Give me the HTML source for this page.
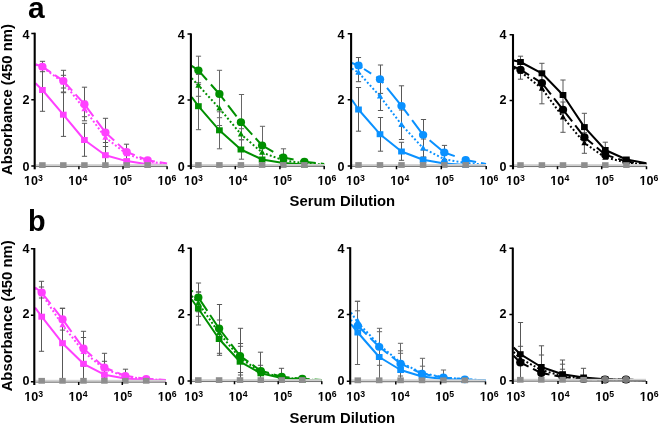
<!DOCTYPE html>
<html lang="en">
<head>
<meta charset="utf-8">
<title>Serum dilution ELISA curves</title>
<style>
html,body{margin:0;padding:0;background:#fff;}
body{width:660px;height:424px;overflow:hidden;font-family:"Liberation Sans", Arial, Helvetica, sans-serif;}
svg{display:block;}
</style>
</head>
<body>
<svg width="660" height="424" viewBox="0 0 660 424" font-family='"Liberation Sans", Arial, Helvetica, sans-serif' font-weight="bold">
<rect width="660" height="424" fill="#fff"/>
<text x="28" y="17.6" font-size="30">a</text>
<text x="28" y="231.4" font-size="28.8">b</text>
<text transform="translate(12.3 99.6) rotate(-90)" text-anchor="middle" font-size="14.85">Absorbance (450 nm)</text>
<text transform="translate(12.3 315.9) rotate(-90)" text-anchor="middle" font-size="14.85">Absorbance (450 nm)</text>
<text x="342.4" y="205.6" text-anchor="middle" font-size="14.85">Serum Dilution</text>
<text x="342.4" y="422.6" text-anchor="middle" font-size="14.85">Serum Dilution</text>
<g>
<path d="M42.5 61.3 V71.7 M39.9 61.3 H45.1 M39.9 71.7 H45.1 M42.5 68.7 V111.3 M39.9 68.7 H45.1 M39.9 111.3 H45.1 M63.5 70.3 V92 M60.9 70.3 H66.1 M60.9 92 H66.1 M63.5 75.3 V88 M60.9 75.3 H66.1 M60.9 88 H66.1 M63.5 92.7 V136.4 M60.9 92.7 H66.1 M60.9 136.4 H66.1 M84.5 87.2 V120.8 M81.9 87.2 H87.1 M81.9 120.8 H87.1 M84.5 101.3 V116.7 M81.9 101.3 H87.1 M81.9 116.7 H87.1 M84.5 123.3 V156.3 M81.9 123.3 H87.1 M81.9 156.3 H87.1 M105.5 118.3 V146.5 M102.9 118.3 H108.1 M102.9 146.5 H108.1 M105.5 132.5 V142.5 M102.9 132.5 H108.1 M102.9 142.5 H108.1 M105.5 146.5 V166 M102.9 146.5 H108.1 M126.5 144.2 V159.8 M123.9 144.2 H129.1 M123.9 159.8 H129.1" stroke="#585858" stroke-width="1" fill="none"/>
<path d="M35.5 64.6 L42.4 67.3 L63.3 82.3 L84.4 109 L105.4 137.5 L126.7 154 L147.6 161.3 L167.1 164" stroke="#FF40FF" stroke-width="2" stroke-linejoin="round" fill="none" stroke-dasharray="1.9 2.2"/>
<path d="M42.4 63.9 L45.45 69.6 L39.35 69.6 Z" fill="#FF40FF"/>
<path d="M63.3 78.9 L66.35 84.6 L60.25 84.6 Z" fill="#FF40FF"/>
<path d="M84.4 105.6 L87.45 111.3 L81.35 111.3 Z" fill="#FF40FF"/>
<path d="M105.4 134.1 L108.45 139.8 L102.35 139.8 Z" fill="#FF40FF"/>
<path d="M126.7 150.6 L129.75 156.3 L123.65 156.3 Z" fill="#FF40FF"/>
<path d="M147.6 157.9 L150.65 163.6 L144.55 163.6 Z" fill="#FF40FF"/>
<path d="M35.5 64.2 L42.4 66.7 L63.3 80.8 L84.4 104.2 L105.4 132.4 L126.7 152 L147.6 160.2 L167.1 163.5" stroke="#FF40FF" stroke-width="2" stroke-linejoin="round" fill="none" stroke-dasharray="17.44 5 23.36 5 28.33 5 27.05 5 20.7 5 16.11 5 12.39 0.01"/>
<ellipse cx="42.4" cy="66.7" rx="4.15" ry="3.9" fill="#FF40FF"/>
<ellipse cx="63.3" cy="80.8" rx="4.15" ry="3.9" fill="#FF40FF"/>
<ellipse cx="84.4" cy="104.2" rx="4.15" ry="3.9" fill="#FF40FF"/>
<ellipse cx="105.4" cy="132.4" rx="4.15" ry="3.9" fill="#FF40FF"/>
<ellipse cx="126.7" cy="152" rx="4.15" ry="3.9" fill="#FF40FF"/>
<ellipse cx="147.6" cy="160.2" rx="4.15" ry="3.9" fill="#FF40FF"/>
<path d="M35.5 83.3 L42.4 90 L63.3 114.7 L84.4 140 L105.4 155.2 L126.7 161.1 L147.6 164.3 L167.1 165.3" stroke="#FF40FF" stroke-width="2" stroke-linejoin="round" fill="none"/>
<rect x="39.05" y="87" width="6.7" height="6" fill="#FF40FF"/>
<rect x="59.95" y="111.7" width="6.7" height="6" fill="#FF40FF"/>
<rect x="81.05" y="137" width="6.7" height="6" fill="#FF40FF"/>
<rect x="102.05" y="152.2" width="6.7" height="6" fill="#FF40FF"/>
<rect x="123.35" y="158.1" width="6.7" height="6" fill="#FF40FF"/>
<rect x="144.25" y="161.3" width="6.7" height="6" fill="#FF40FF"/>
<rect x="35.7" y="164.1" width="131.4" height="1.9" fill="#d2d2d2"/>
<rect x="35.7" y="165.95" width="131.4" height="1.1" fill="#787878"/>
<rect x="39.15" y="162.2" width="6.5" height="5.8" fill="#8e8e8e"/>
<rect x="60.05" y="162.2" width="6.5" height="5.8" fill="#8e8e8e"/>
<rect x="81.15" y="162.2" width="6.5" height="5.8" fill="#8e8e8e"/>
<rect x="102.15" y="162.2" width="6.5" height="5.8" fill="#8e8e8e"/>
<rect x="123.45" y="162.2" width="6.5" height="5.8" fill="#8e8e8e"/>
<rect x="144.35" y="162.2" width="6.5" height="5.8" fill="#8e8e8e"/>
<path d="M34.7 32.7 V169.3" stroke="#000" stroke-width="2.1" fill="none"/>
<path d="M31.3 33.4 H34.7 M31.3 99.7 H34.7 M31.3 166 H34.7 M78.9 166.2 V169.3 M123 166.2 V169.3 M167.1 166.2 V169.3" stroke="#000" stroke-width="1.5" fill="none"/>
<text transform="translate(29.5 38.5) scale(0.92 1)" text-anchor="end" font-size="13.7">4</text>
<text transform="translate(29.5 103.6) scale(0.92 1)" text-anchor="end" font-size="13.7">2</text>
<text transform="translate(29.5 170.7) scale(0.92 1)" text-anchor="end" font-size="13.7">0</text>
<text transform="translate(33.4 185.1) scale(0.92 1)" text-anchor="middle" font-size="13.7">10<tspan font-size="9.5" dy="-4.4">3</tspan></text>
<path d="M24.15 183.1h2.75v2.55h-2.75z M28.63 183.1h2.49v2.55h-2.49z" fill="#fff"/>
<text transform="translate(77.8 185.1) scale(0.92 1)" text-anchor="middle" font-size="13.7">10<tspan font-size="9.5" dy="-4.4">4</tspan></text>
<path d="M68.55 183.1h2.75v2.55h-2.75z M73.03 183.1h2.49v2.55h-2.49z" fill="#fff"/>
<text transform="translate(122.4 185.1) scale(0.92 1)" text-anchor="middle" font-size="13.7">10<tspan font-size="9.5" dy="-4.4">5</tspan></text>
<path d="M113.15 183.1h2.75v2.55h-2.75z M117.63 183.1h2.49v2.55h-2.49z" fill="#fff"/>
<text transform="translate(166.85 185.1) scale(0.92 1)" text-anchor="middle" font-size="13.7">10<tspan font-size="9.5" dy="-4.4">6</tspan></text>
<path d="M157.6 183.1h2.75v2.55h-2.75z M162.08 183.1h2.49v2.55h-2.49z" fill="#fff"/>
</g>
<g>
<path d="M198.5 56.2 V84.4 M195.9 56.2 H201.1 M195.9 84.4 H201.1 M198.5 74.5 V96.3 M195.9 74.5 H201.1 M195.9 96.3 H201.1 M198.5 82.7 V129.7 M195.9 82.7 H201.1 M195.9 129.7 H201.1 M219.5 70.3 V117.7 M216.9 70.3 H222.1 M216.9 117.7 H222.1 M219.5 91.3 V125.5 M216.9 91.3 H222.1 M216.9 125.5 H222.1 M219.5 111.8 V148.8 M216.9 111.8 H222.1 M216.9 148.8 H222.1 M241.5 94.5 V150 M238.9 94.5 H244.1 M238.9 150 H244.1 M241.5 128.7 V139.7 M238.9 128.7 H244.1 M238.9 139.7 H244.1 M241.5 139.8 V159.2 M238.9 139.8 H244.1 M238.9 159.2 H244.1 M262.5 126.3 V164.5 M259.9 126.3 H265.1 M259.9 164.5 H265.1 M283.5 148.8 V165 M280.9 148.8 H286.1 M280.9 165 H286.1" stroke="#666666" stroke-width="1" fill="none"/>
<path d="M191.7 97 L198.4 106.2 L219.4 130.3 L240.9 149.5 L262.1 159.5 L283.3 163 L304.4 164.6 L324.2 165.4" stroke="#008F00" stroke-width="2" stroke-linejoin="round" fill="none"/>
<rect x="195.05" y="103.2" width="6.7" height="6" fill="#008F00"/>
<rect x="216.05" y="127.3" width="6.7" height="6" fill="#008F00"/>
<rect x="237.55" y="146.5" width="6.7" height="6" fill="#008F00"/>
<rect x="258.75" y="156.5" width="6.7" height="6" fill="#008F00"/>
<rect x="279.95" y="160" width="6.7" height="6" fill="#008F00"/>
<rect x="301.05" y="161.6" width="6.7" height="6" fill="#008F00"/>
<path d="M191.7 78.3 L198.4 85.4 L219.4 108.3 L240.9 134.2 L262.1 152.5 L283.3 160.3 L304.4 163.3 L324.2 164.6" stroke="#008F00" stroke-width="2" stroke-linejoin="round" fill="none" stroke-dasharray="1.9 2.2"/>
<path d="M198.4 82 L201.45 87.7 L195.35 87.7 Z" fill="#008F00"/>
<path d="M219.4 104.9 L222.45 110.6 L216.35 110.6 Z" fill="#008F00"/>
<path d="M240.9 130.8 L243.95 136.5 L237.85 136.5 Z" fill="#008F00"/>
<path d="M262.1 149.1 L265.15 154.8 L259.05 154.8 Z" fill="#008F00"/>
<path d="M283.3 156.9 L286.35 162.6 L280.25 162.6 Z" fill="#008F00"/>
<path d="M304.4 159.9 L307.45 165.6 L301.35 165.6 Z" fill="#008F00"/>
<path d="M191.7 65.8 L198.4 70.3 L219.4 94 L240.9 122.2 L262.1 145.4 L283.3 157.5 L304.4 161.7 L324.2 164" stroke="#008F00" stroke-width="2" stroke-linejoin="round" fill="none" stroke-dasharray="21 6 21.8 5.2 14 3.5 20.5 5 22.5 7 15 7 15.5 5 400 0.01"/>
<ellipse cx="198.4" cy="70.3" rx="4.15" ry="3.9" fill="#008F00"/>
<ellipse cx="219.4" cy="94" rx="4.15" ry="3.9" fill="#008F00"/>
<ellipse cx="240.9" cy="122.2" rx="4.15" ry="3.9" fill="#008F00"/>
<ellipse cx="262.1" cy="145.4" rx="4.15" ry="3.9" fill="#008F00"/>
<ellipse cx="283.3" cy="157.5" rx="4.15" ry="3.9" fill="#008F00"/>
<ellipse cx="304.4" cy="161.7" rx="4.15" ry="3.9" fill="#008F00"/>
<rect x="191.9" y="164" width="132.3" height="1.9" fill="#d2d2d2"/>
<rect x="191.9" y="165.85" width="132.3" height="1.1" fill="#787878"/>
<rect x="195.15" y="162.1" width="6.5" height="5.8" fill="#8e8e8e"/>
<rect x="216.15" y="162.1" width="6.5" height="5.8" fill="#8e8e8e"/>
<rect x="237.65" y="162.1" width="6.5" height="5.8" fill="#8e8e8e"/>
<rect x="258.85" y="162.1" width="6.5" height="5.8" fill="#8e8e8e"/>
<rect x="280.05" y="162.1" width="6.5" height="5.8" fill="#8e8e8e"/>
<rect x="301.15" y="162.1" width="6.5" height="5.8" fill="#8e8e8e"/>
<path d="M190.9 33.4 V169.2" stroke="#000" stroke-width="2.1" fill="none"/>
<path d="M187.5 34.1 H190.9 M187.5 100 H190.9 M187.5 165.9 H190.9 M235.3 166.1 V169.2 M279.9 166.1 V169.2 M324.2 166.1 V169.2" stroke="#000" stroke-width="1.5" fill="none"/>
<text transform="translate(184.7 38.5) scale(0.92 1)" text-anchor="end" font-size="13.7">4</text>
<text transform="translate(184.7 103.6) scale(0.92 1)" text-anchor="end" font-size="13.7">2</text>
<text transform="translate(184.7 170.7) scale(0.92 1)" text-anchor="end" font-size="13.7">0</text>
<text transform="translate(193.4 185.1) scale(0.92 1)" text-anchor="middle" font-size="13.7">10<tspan font-size="9.5" dy="-4.4">3</tspan></text>
<path d="M184.15 183.1h2.75v2.55h-2.75z M188.63 183.1h2.49v2.55h-2.49z" fill="#fff"/>
<text transform="translate(237.8 185.1) scale(0.92 1)" text-anchor="middle" font-size="13.7">10<tspan font-size="9.5" dy="-4.4">4</tspan></text>
<path d="M228.55 183.1h2.75v2.55h-2.75z M233.03 183.1h2.49v2.55h-2.49z" fill="#fff"/>
<text transform="translate(282.4 185.1) scale(0.92 1)" text-anchor="middle" font-size="13.7">10<tspan font-size="9.5" dy="-4.4">5</tspan></text>
<path d="M273.15 183.1h2.75v2.55h-2.75z M277.63 183.1h2.49v2.55h-2.49z" fill="#fff"/>
<text transform="translate(326.85 185.1) scale(0.92 1)" text-anchor="middle" font-size="13.7">10<tspan font-size="9.5" dy="-4.4">6</tspan></text>
<path d="M317.6 183.1h2.75v2.55h-2.75z M322.08 183.1h2.49v2.55h-2.49z" fill="#fff"/>
</g>
<g>
<path d="M358.5 57.5 V73.5 M355.9 57.5 H361.1 M355.9 73.5 H361.1 M358.5 63.3 V81.7 M355.9 63.3 H361.1 M355.9 81.7 H361.1 M358.5 87.5 V131.2 M355.9 87.5 H361.1 M355.9 131.2 H361.1 M380.5 65 V93.4 M377.9 65 H383.1 M377.9 93.4 H383.1 M380.5 82 V110.5 M377.9 82 H383.1 M377.9 110.5 H383.1 M380.5 117.5 V151.2 M377.9 117.5 H383.1 M377.9 151.2 H383.1 M401.5 85.8 V125.8 M398.9 85.8 H404.1 M398.9 125.8 H404.1 M401.5 110 V139.5 M398.9 110 H404.1 M398.9 139.5 H404.1 M401.5 142.3 V160.3 M398.9 142.3 H404.1 M398.9 160.3 H404.1 M423.5 119.5 V150 M420.9 119.5 H426.1 M420.9 150 H426.1 M423.5 139 V157 M420.9 139 H426.1 M420.9 157 H426.1 M444.5 145.4 V159.6 M441.9 145.4 H447.1 M441.9 159.6 H447.1" stroke="#585858" stroke-width="1" fill="none"/>
<path d="M351.9 99.7 L358.5 109.5 L380 134.2 L401.5 151.5 L423.1 159.7 L444.3 163.5 L465.7 165 L486 165.5" stroke="#0A91FF" stroke-width="2" stroke-linejoin="round" fill="none"/>
<rect x="355.15" y="106.5" width="6.7" height="6" fill="#0A91FF"/>
<rect x="376.65" y="131.2" width="6.7" height="6" fill="#0A91FF"/>
<rect x="398.15" y="148.5" width="6.7" height="6" fill="#0A91FF"/>
<rect x="419.75" y="156.7" width="6.7" height="6" fill="#0A91FF"/>
<rect x="440.95" y="160.5" width="6.7" height="6" fill="#0A91FF"/>
<rect x="462.35" y="162" width="6.7" height="6" fill="#0A91FF"/>
<path d="M351.9 68.7 L358.5 72.5 L380 96.3 L401.5 124.7 L423.1 148.2 L444.3 159.2 L465.7 163 L486 164.6" stroke="#0A91FF" stroke-width="2" stroke-linejoin="round" fill="none" stroke-dasharray="1.9 2.2"/>
<path d="M358.5 69.1 L361.55 74.8 L355.45 74.8 Z" fill="#0A91FF"/>
<path d="M380 92.9 L383.05 98.6 L376.95 98.6 Z" fill="#0A91FF"/>
<path d="M401.5 121.3 L404.55 127 L398.45 127 Z" fill="#0A91FF"/>
<path d="M423.1 144.8 L426.15 150.5 L420.05 150.5 Z" fill="#0A91FF"/>
<path d="M444.3 155.8 L447.35 161.5 L441.25 161.5 Z" fill="#0A91FF"/>
<path d="M465.7 159.6 L468.75 165.3 L462.65 165.3 Z" fill="#0A91FF"/>
<path d="M351.9 63 L358.5 65.5 L380 79.2 L401.5 105.8 L423.1 134.8 L444.3 152.5 L465.7 160 L486 164" stroke="#0A91FF" stroke-width="2" stroke-linejoin="round" fill="none" stroke-dasharray="11.6 2 8.5 6 9.6 6 35.3 5.5 22.5 4.4 30.2 7.9 14.3 5 400 0.01"/>
<ellipse cx="358.5" cy="65.5" rx="4.15" ry="3.9" fill="#0A91FF"/>
<ellipse cx="380" cy="79.2" rx="4.15" ry="3.9" fill="#0A91FF"/>
<ellipse cx="401.5" cy="105.8" rx="4.15" ry="3.9" fill="#0A91FF"/>
<ellipse cx="423.1" cy="134.8" rx="4.15" ry="3.9" fill="#0A91FF"/>
<ellipse cx="444.3" cy="152.5" rx="4.15" ry="3.9" fill="#0A91FF"/>
<ellipse cx="465.7" cy="160" rx="4.15" ry="3.9" fill="#0A91FF"/>
<rect x="352.1" y="164" width="133.9" height="1.9" fill="#d2d2d2"/>
<rect x="352.1" y="165.85" width="133.9" height="1.1" fill="#787878"/>
<rect x="355.25" y="162.1" width="6.5" height="5.8" fill="#8e8e8e"/>
<rect x="376.75" y="162.1" width="6.5" height="5.8" fill="#8e8e8e"/>
<rect x="398.25" y="162.1" width="6.5" height="5.8" fill="#8e8e8e"/>
<rect x="419.85" y="162.1" width="6.5" height="5.8" fill="#8e8e8e"/>
<rect x="441.05" y="162.1" width="6.5" height="5.8" fill="#8e8e8e"/>
<rect x="462.45" y="162.1" width="6.5" height="5.8" fill="#8e8e8e"/>
<path d="M351.1 33 V169.2" stroke="#000" stroke-width="2.1" fill="none"/>
<path d="M347.7 33.7 H351.1 M347.7 99.8 H351.1 M347.7 165.9 H351.1 M396.5 166.1 V169.2 M441.3 166.1 V169.2 M486.2 166.1 V169.2" stroke="#000" stroke-width="1.5" fill="none"/>
<text transform="translate(344.5 38.5) scale(0.92 1)" text-anchor="end" font-size="13.7">4</text>
<text transform="translate(344.5 103.6) scale(0.92 1)" text-anchor="end" font-size="13.7">2</text>
<text transform="translate(344.5 170.7) scale(0.92 1)" text-anchor="end" font-size="13.7">0</text>
<text transform="translate(355.4 185.1) scale(0.92 1)" text-anchor="middle" font-size="13.7">10<tspan font-size="9.5" dy="-4.4">3</tspan></text>
<path d="M346.15 183.1h2.75v2.55h-2.75z M350.63 183.1h2.49v2.55h-2.49z" fill="#fff"/>
<text transform="translate(399.8 185.1) scale(0.92 1)" text-anchor="middle" font-size="13.7">10<tspan font-size="9.5" dy="-4.4">4</tspan></text>
<path d="M390.55 183.1h2.75v2.55h-2.75z M395.03 183.1h2.49v2.55h-2.49z" fill="#fff"/>
<text transform="translate(444.4 185.1) scale(0.92 1)" text-anchor="middle" font-size="13.7">10<tspan font-size="9.5" dy="-4.4">5</tspan></text>
<path d="M435.15 183.1h2.75v2.55h-2.75z M439.63 183.1h2.49v2.55h-2.49z" fill="#fff"/>
<text transform="translate(488.85 185.1) scale(0.92 1)" text-anchor="middle" font-size="13.7">10<tspan font-size="9.5" dy="-4.4">6</tspan></text>
<path d="M479.6 183.1h2.75v2.55h-2.75z M484.08 183.1h2.49v2.55h-2.49z" fill="#fff"/>
</g>
<g>
<path d="M520.5 56.2 V67.8 M517.9 56.2 H523.1 M517.9 67.8 H523.1 M520.5 60.2 V79.2 M517.9 60.2 H523.1 M517.9 79.2 H523.1 M541.9 63.3 V83.3 M539.3 63.3 H544.5 M539.3 83.3 H544.5 M541.9 73.2 V103.8 M539.3 73.2 H544.5 M539.3 103.8 H544.5 M563 80 V110 M560.4 80 H565.6 M560.4 110 H565.6 M563 102 V132.3 M560.4 102 H565.6 M560.4 132.3 H565.6 M584.4 113.3 V141 M581.8 113.3 H587 M581.8 141 H587 M584.4 132.7 V153.3 M581.8 132.7 H587 M581.8 153.3 H587 M605.3 142.2 V157.8 M602.7 142.2 H607.9 M602.7 157.8 H607.9" stroke="#585858" stroke-width="1" fill="none"/>
<path d="M513.8 68 L520.5 71.5 L541.9 88.5 L563 117.2 L584.4 143 L605.3 157.5 L626.4 162.5 L646.4 164.5" stroke="#000000" stroke-width="2" stroke-linejoin="round" fill="none" stroke-dasharray="1.9 2.2"/>
<path d="M520.5 68.1 L523.55 73.8 L517.45 73.8 Z" fill="#000000"/>
<path d="M541.9 85.1 L544.95 90.8 L538.85 90.8 Z" fill="#000000"/>
<path d="M563 113.8 L566.05 119.5 L559.95 119.5 Z" fill="#000000"/>
<path d="M584.4 139.6 L587.45 145.3 L581.35 145.3 Z" fill="#000000"/>
<path d="M605.3 154.1 L608.35 159.8 L602.25 159.8 Z" fill="#000000"/>
<path d="M626.4 159.1 L629.45 164.8 L623.35 164.8 Z" fill="#000000"/>
<path d="M513.8 66.7 L520.5 69.7 L541.9 83 L563 109.7 L584.4 137.2 L605.3 154.7 L626.4 161.5 L646.4 164" stroke="#000000" stroke-width="2" stroke-linejoin="round" fill="none" stroke-dasharray="17.44 5 24.61 5 29.44 5 26.05 5 19.71 5 16.16 5 12.58 0.01"/>
<ellipse cx="520.5" cy="69.7" rx="4.15" ry="3.9" fill="#000000"/>
<ellipse cx="541.9" cy="83" rx="4.15" ry="3.9" fill="#000000"/>
<ellipse cx="563" cy="109.7" rx="4.15" ry="3.9" fill="#000000"/>
<ellipse cx="584.4" cy="137.2" rx="4.15" ry="3.9" fill="#000000"/>
<ellipse cx="605.3" cy="154.7" rx="4.15" ry="3.9" fill="#000000"/>
<ellipse cx="626.4" cy="161.5" rx="4.15" ry="3.9" fill="#000000"/>
<path d="M513.8 60.5 L520.5 62 L541.9 73.3 L563 95 L584.4 127.1 L605.3 150 L626.4 159.5 L646.4 163.3" stroke="#000000" stroke-width="2" stroke-linejoin="round" fill="none"/>
<rect x="517.15" y="59" width="6.7" height="6" fill="#000000"/>
<rect x="538.55" y="70.3" width="6.7" height="6" fill="#000000"/>
<rect x="559.65" y="92" width="6.7" height="6" fill="#000000"/>
<rect x="581.05" y="124.1" width="6.7" height="6" fill="#000000"/>
<rect x="601.95" y="147" width="6.7" height="6" fill="#000000"/>
<rect x="623.05" y="156.5" width="6.7" height="6" fill="#000000"/>
<rect x="514" y="164.1" width="132.4" height="1.9" fill="#d2d2d2"/>
<rect x="514" y="165.95" width="132.4" height="1.1" fill="#787878"/>
<rect x="517.25" y="162.2" width="6.5" height="5.8" fill="#8e8e8e"/>
<rect x="538.65" y="162.2" width="6.5" height="5.8" fill="#8e8e8e"/>
<rect x="559.75" y="162.2" width="6.5" height="5.8" fill="#8e8e8e"/>
<rect x="581.15" y="162.2" width="6.5" height="5.8" fill="#8e8e8e"/>
<rect x="602.05" y="162.2" width="6.5" height="5.8" fill="#8e8e8e"/>
<rect x="623.15" y="162.2" width="6.5" height="5.8" fill="#8e8e8e"/>
<path d="M513 34.1 V169.3" stroke="#000" stroke-width="2.1" fill="none"/>
<path d="M509.6 34.8 H513 M509.6 100.4 H513 M509.6 166 H513 M557.5 166.2 V169.3 M601.7 166.2 V169.3 M646.5 166.2 V169.3" stroke="#000" stroke-width="1.5" fill="none"/>
<text transform="translate(506.5 38.5) scale(0.92 1)" text-anchor="end" font-size="13.7">4</text>
<text transform="translate(506.5 103.6) scale(0.92 1)" text-anchor="end" font-size="13.7">2</text>
<text transform="translate(506.5 170.7) scale(0.92 1)" text-anchor="end" font-size="13.7">0</text>
<text transform="translate(515.4 185.1) scale(0.92 1)" text-anchor="middle" font-size="13.7">10<tspan font-size="9.5" dy="-4.4">3</tspan></text>
<path d="M506.15 183.1h2.75v2.55h-2.75z M510.63 183.1h2.49v2.55h-2.49z" fill="#fff"/>
<text transform="translate(559.8 185.1) scale(0.92 1)" text-anchor="middle" font-size="13.7">10<tspan font-size="9.5" dy="-4.4">4</tspan></text>
<path d="M550.55 183.1h2.75v2.55h-2.75z M555.03 183.1h2.49v2.55h-2.49z" fill="#fff"/>
<text transform="translate(604.4 185.1) scale(0.92 1)" text-anchor="middle" font-size="13.7">10<tspan font-size="9.5" dy="-4.4">5</tspan></text>
<path d="M595.15 183.1h2.75v2.55h-2.75z M599.63 183.1h2.49v2.55h-2.49z" fill="#fff"/>
<text transform="translate(648.85 185.1) scale(0.92 1)" text-anchor="middle" font-size="13.7">10<tspan font-size="9.5" dy="-4.4">6</tspan></text>
<path d="M639.6 183.1h2.75v2.55h-2.75z M644.08 183.1h2.49v2.55h-2.49z" fill="#fff"/>
</g>
<g>
<path d="M41.5 287 V298 M38.9 287 H44.1 M38.9 298 H44.1 M41.5 281.3 V351.3 M38.9 281.3 H44.1 M38.9 351.3 H44.1 M62.5 308.3 V330.1 M59.9 308.3 H65.1 M59.9 330.1 H65.1 M62.5 308.3 V381.7 M59.9 308.3 H65.1 M83.5 331.3 V365.7 M80.9 331.3 H86.1 M80.9 365.7 H86.1 M83.5 337.5 V366 M80.9 337.5 H86.1 M80.9 366 H86.1 M83.5 346.5 V381.7 M80.9 346.5 H86.1 M104.5 353.3 V381.7 M101.9 353.3 H107.1 M104.5 361.3 V377 M101.9 361.3 H107.1 M101.9 377 H107.1 M125.5 369.2 V381.7 M122.9 369.2 H128.1" stroke="#585858" stroke-width="1" fill="none"/>
<path d="M35.1 288 L41.7 294 L62.5 325 L83.5 351.7 L104.4 369 L125.3 376.5 L146.2 379 L165.9 380.2" stroke="#FF40FF" stroke-width="2" stroke-linejoin="round" fill="none" stroke-dasharray="1.9 2.2"/>
<path d="M41.7 290.6 L44.75 296.3 L38.65 296.3 Z" fill="#FF40FF"/>
<path d="M62.5 321.6 L65.55 327.3 L59.45 327.3 Z" fill="#FF40FF"/>
<path d="M83.5 348.3 L86.55 354 L80.45 354 Z" fill="#FF40FF"/>
<path d="M104.4 365.6 L107.45 371.3 L101.35 371.3 Z" fill="#FF40FF"/>
<path d="M125.3 373.1 L128.35 378.8 L122.25 378.8 Z" fill="#FF40FF"/>
<path d="M146.2 375.6 L149.25 381.3 L143.15 381.3 Z" fill="#FF40FF"/>
<path d="M35.1 287.5 L41.7 292.5 L62.5 319.2 L83.5 348.5 L104.4 367.5 L125.3 375.8 L146.2 378.8 L165.9 380" stroke="#FF40FF" stroke-width="2" stroke-linejoin="round" fill="none" stroke-dasharray="22.7 5 29.95 5 27.15 5 20.37 5 16.8 5 15.43 5 12.37 0.01"/>
<ellipse cx="41.7" cy="292.5" rx="4.15" ry="3.9" fill="#FF40FF"/>
<ellipse cx="62.5" cy="319.2" rx="4.15" ry="3.9" fill="#FF40FF"/>
<ellipse cx="83.5" cy="348.5" rx="4.15" ry="3.9" fill="#FF40FF"/>
<ellipse cx="104.4" cy="367.5" rx="4.15" ry="3.9" fill="#FF40FF"/>
<ellipse cx="125.3" cy="375.8" rx="4.15" ry="3.9" fill="#FF40FF"/>
<ellipse cx="146.2" cy="378.8" rx="4.15" ry="3.9" fill="#FF40FF"/>
<path d="M35.1 307.7 L41.7 316.7 L62.5 343.2 L83.5 363.8 L104.4 374.7 L125.3 378.5 L146.2 380 L165.9 380.5" stroke="#FF40FF" stroke-width="2" stroke-linejoin="round" fill="none"/>
<rect x="38.35" y="313.7" width="6.7" height="6" fill="#FF40FF"/>
<rect x="59.15" y="340.2" width="6.7" height="6" fill="#FF40FF"/>
<rect x="80.15" y="360.8" width="6.7" height="6" fill="#FF40FF"/>
<rect x="101.05" y="371.7" width="6.7" height="6" fill="#FF40FF"/>
<rect x="121.95" y="375.5" width="6.7" height="6" fill="#FF40FF"/>
<rect x="142.85" y="377" width="6.7" height="6" fill="#FF40FF"/>
<rect x="35.3" y="379.8" width="130.6" height="1.9" fill="#d2d2d2"/>
<rect x="35.3" y="381.65" width="130.6" height="1.1" fill="#787878"/>
<rect x="38.45" y="377.9" width="6.5" height="5.8" fill="#8e8e8e"/>
<rect x="59.25" y="377.9" width="6.5" height="5.8" fill="#8e8e8e"/>
<rect x="80.25" y="377.9" width="6.5" height="5.8" fill="#8e8e8e"/>
<rect x="101.15" y="377.9" width="6.5" height="5.8" fill="#8e8e8e"/>
<rect x="122.05" y="377.9" width="6.5" height="5.8" fill="#8e8e8e"/>
<rect x="142.95" y="377.9" width="6.5" height="5.8" fill="#8e8e8e"/>
<path d="M34.3 248 V385" stroke="#000" stroke-width="2.1" fill="none"/>
<path d="M30.9 248.7 H34.3 M30.9 315.2 H34.3 M30.9 381.7 H34.3 M78.7 381.9 V385 M122.3 381.9 V385 M165.9 381.9 V385" stroke="#000" stroke-width="1.5" fill="none"/>
<text transform="translate(29.5 253.2) scale(0.92 1)" text-anchor="end" font-size="13.7">4</text>
<text transform="translate(29.5 318.3) scale(0.92 1)" text-anchor="end" font-size="13.7">2</text>
<text transform="translate(29.5 385.4) scale(0.92 1)" text-anchor="end" font-size="13.7">0</text>
<text transform="translate(33.65 400.9) scale(0.92 1)" text-anchor="middle" font-size="13.7">10<tspan font-size="9.5" dy="-4.4">3</tspan></text>
<path d="M24.4 398.9h2.75v2.55h-2.75z M28.88 398.9h2.49v2.55h-2.49z" fill="#fff"/>
<text transform="translate(78.05 400.9) scale(0.92 1)" text-anchor="middle" font-size="13.7">10<tspan font-size="9.5" dy="-4.4">4</tspan></text>
<path d="M68.8 398.9h2.75v2.55h-2.75z M73.28 398.9h2.49v2.55h-2.49z" fill="#fff"/>
<text transform="translate(122.65 400.9) scale(0.92 1)" text-anchor="middle" font-size="13.7">10<tspan font-size="9.5" dy="-4.4">5</tspan></text>
<path d="M113.4 398.9h2.75v2.55h-2.75z M117.88 398.9h2.49v2.55h-2.49z" fill="#fff"/>
<text transform="translate(167.1 400.9) scale(0.92 1)" text-anchor="middle" font-size="13.7">10<tspan font-size="9.5" dy="-4.4">6</tspan></text>
<path d="M157.85 398.9h2.75v2.55h-2.75z M162.33 398.9h2.49v2.55h-2.49z" fill="#fff"/>
</g>
<g>
<path d="M198.5 283 V311.8 M195.9 283 H201.1 M195.9 311.8 H201.1 M198.5 292 V325 M195.9 292 H201.1 M195.9 325 H201.1 M198.5 292 V316.3 M195.9 292 H201.1 M195.9 316.3 H201.1 M219.5 304.5 V353.3 M216.9 304.5 H222.1 M216.9 353.3 H222.1 M219.5 320 V355.3 M216.9 320 H222.1 M216.9 355.3 H222.1 M240.5 328.3 V381 M237.9 328.3 H243.1 M240.5 346.3 V375 M237.9 346.3 H243.1 M237.9 375 H243.1 M240.5 343.5 V372.5 M237.9 343.5 H243.1 M237.9 372.5 H243.1 M260.5 352.2 V381 M257.9 352.2 H263.1 M260.5 365.3 V381 M257.9 365.3 H263.1 M281.5 368.3 V381 M278.9 368.3 H284.1" stroke="#585858" stroke-width="1" fill="none"/>
<path d="M191.7 296 L198.3 303 L219.1 333 L240 358 L260.8 372 L281.7 377.5 L302.3 379.3 L321.8 380.3" stroke="#008F00" stroke-width="2" stroke-linejoin="round" fill="none" stroke-dasharray="1.9 2.2"/>
<path d="M198.3 299.6 L201.35 305.3 L195.25 305.3 Z" fill="#008F00"/>
<path d="M219.1 329.6 L222.15 335.3 L216.05 335.3 Z" fill="#008F00"/>
<path d="M240 354.6 L243.05 360.3 L236.95 360.3 Z" fill="#008F00"/>
<path d="M260.8 368.6 L263.85 374.3 L257.75 374.3 Z" fill="#008F00"/>
<path d="M281.7 374.1 L284.75 379.8 L278.65 379.8 Z" fill="#008F00"/>
<path d="M302.3 375.9 L305.35 381.6 L299.25 381.6 Z" fill="#008F00"/>
<path d="M191.7 290.6 L198.3 297.4 L219.1 328.5 L240 355.8 L260.8 370.8 L281.7 376.7 L302.3 378.7 L321.8 380" stroke="#008F00" stroke-width="2" stroke-linejoin="round" fill="none" stroke-dasharray="1.6 6 18.08 5 30.9 5 25.01 5 18.68 5 16.21 5 15.12 5 12.27 0.01"/>
<ellipse cx="198.3" cy="297.4" rx="4.15" ry="3.9" fill="#008F00"/>
<ellipse cx="219.1" cy="328.5" rx="4.15" ry="3.9" fill="#008F00"/>
<ellipse cx="240" cy="355.8" rx="4.15" ry="3.9" fill="#008F00"/>
<ellipse cx="260.8" cy="370.8" rx="4.15" ry="3.9" fill="#008F00"/>
<ellipse cx="281.7" cy="376.7" rx="4.15" ry="3.9" fill="#008F00"/>
<ellipse cx="302.3" cy="378.7" rx="4.15" ry="3.9" fill="#008F00"/>
<path d="M191.7 299.5 L198.3 308.5 L219.1 339 L240 361.7 L260.8 373.3 L281.7 378 L302.3 379.8 L321.8 380.5" stroke="#008F00" stroke-width="2" stroke-linejoin="round" fill="none"/>
<rect x="194.95" y="305.5" width="6.7" height="6" fill="#008F00"/>
<rect x="215.75" y="336" width="6.7" height="6" fill="#008F00"/>
<rect x="236.65" y="358.7" width="6.7" height="6" fill="#008F00"/>
<rect x="257.45" y="370.3" width="6.7" height="6" fill="#008F00"/>
<rect x="278.35" y="375" width="6.7" height="6" fill="#008F00"/>
<rect x="298.95" y="376.8" width="6.7" height="6" fill="#008F00"/>
<rect x="191.9" y="379.1" width="129.9" height="1.9" fill="#d2d2d2"/>
<rect x="191.9" y="380.95" width="129.9" height="1.1" fill="#787878"/>
<rect x="195.05" y="377.2" width="6.5" height="5.8" fill="#8e8e8e"/>
<rect x="215.85" y="377.2" width="6.5" height="5.8" fill="#8e8e8e"/>
<rect x="236.75" y="377.2" width="6.5" height="5.8" fill="#8e8e8e"/>
<rect x="257.55" y="377.2" width="6.5" height="5.8" fill="#8e8e8e"/>
<rect x="278.45" y="377.2" width="6.5" height="5.8" fill="#8e8e8e"/>
<rect x="299.05" y="377.2" width="6.5" height="5.8" fill="#8e8e8e"/>
<path d="M190.9 247.6 V384.3" stroke="#000" stroke-width="2.1" fill="none"/>
<path d="M187.5 248.3 H190.9 M187.5 314.65 H190.9 M187.5 381 H190.9 M234.5 381.2 V384.3 M278.2 381.2 V384.3 M321.8 381.2 V384.3" stroke="#000" stroke-width="1.5" fill="none"/>
<text transform="translate(184.7 253.2) scale(0.92 1)" text-anchor="end" font-size="13.7">4</text>
<text transform="translate(184.7 318.3) scale(0.92 1)" text-anchor="end" font-size="13.7">2</text>
<text transform="translate(184.7 385.4) scale(0.92 1)" text-anchor="end" font-size="13.7">0</text>
<text transform="translate(193.65 400.9) scale(0.92 1)" text-anchor="middle" font-size="13.7">10<tspan font-size="9.5" dy="-4.4">3</tspan></text>
<path d="M184.4 398.9h2.75v2.55h-2.75z M188.88 398.9h2.49v2.55h-2.49z" fill="#fff"/>
<text transform="translate(238.05 400.9) scale(0.92 1)" text-anchor="middle" font-size="13.7">10<tspan font-size="9.5" dy="-4.4">4</tspan></text>
<path d="M228.8 398.9h2.75v2.55h-2.75z M233.28 398.9h2.49v2.55h-2.49z" fill="#fff"/>
<text transform="translate(282.65 400.9) scale(0.92 1)" text-anchor="middle" font-size="13.7">10<tspan font-size="9.5" dy="-4.4">5</tspan></text>
<path d="M273.4 398.9h2.75v2.55h-2.75z M277.88 398.9h2.49v2.55h-2.49z" fill="#fff"/>
<text transform="translate(327.1 400.9) scale(0.92 1)" text-anchor="middle" font-size="13.7">10<tspan font-size="9.5" dy="-4.4">6</tspan></text>
<path d="M317.85 398.9h2.75v2.55h-2.75z M322.33 398.9h2.49v2.55h-2.49z" fill="#fff"/>
</g>
<g>
<path d="M357.5 301.3 V334 M354.9 301.3 H360.1 M354.9 334 H360.1 M357.5 310.8 V334 M354.9 310.8 H360.1 M354.9 334 H360.1 M357.5 301.3 V364.5 M354.9 301.3 H360.1 M354.9 364.5 H360.1 M379.5 328.3 V365.3 M376.9 328.3 H382.1 M376.9 365.3 H382.1 M379.5 331.7 V381.2 M376.9 331.7 H382.1 M400.5 343.3 V381.2 M397.9 343.3 H403.1 M400.5 350.8 V376 M397.9 350.8 H403.1 M397.9 376 H403.1 M400.5 353.3 V381.2 M397.9 353.3 H403.1 M422.5 358.3 V381.2 M419.9 358.3 H425.1 M422.5 366.2 V381.2 M419.9 366.2 H425.1 M443.5 370 V381.2 M440.9 370 H446.1" stroke="#666666" stroke-width="1" fill="none"/>
<path d="M351 320 L357.8 325.8 L379.2 346.8 L400.6 363.7 L422 373.7 L443.4 377.5 L464.8 379.3 L485.5 380.3" stroke="#0A91FF" stroke-width="2" stroke-linejoin="round" fill="none" stroke-dasharray="1.4 7 13.03 5 23.63 5 20.44 5 17.68 5 16.61 5 16.1 5 12.86 0.01"/>
<ellipse cx="357.8" cy="325.8" rx="4.15" ry="3.9" fill="#0A91FF"/>
<ellipse cx="379.2" cy="346.8" rx="4.15" ry="3.9" fill="#0A91FF"/>
<ellipse cx="400.6" cy="363.7" rx="4.15" ry="3.9" fill="#0A91FF"/>
<ellipse cx="422" cy="373.7" rx="4.15" ry="3.9" fill="#0A91FF"/>
<ellipse cx="443.4" cy="377.5" rx="4.15" ry="3.9" fill="#0A91FF"/>
<ellipse cx="464.8" cy="379.3" rx="4.15" ry="3.9" fill="#0A91FF"/>
<path d="M351 312.5 L357.8 322.5 L379.2 345 L400.6 362.5 L422 373 L443.4 377.3 L464.8 379.3 L485.5 380.3" stroke="#0A91FF" stroke-width="2" stroke-linejoin="round" fill="none" stroke-dasharray="1.9 2.2"/>
<path d="M357.8 317.74 L362.07 325.72 L353.53 325.72 Z" fill="#0A91FF"/>
<path d="M379.2 341.6 L382.25 347.3 L376.15 347.3 Z" fill="#0A91FF"/>
<path d="M400.6 359.1 L403.65 364.8 L397.55 364.8 Z" fill="#0A91FF"/>
<path d="M422 369.6 L425.05 375.3 L418.95 375.3 Z" fill="#0A91FF"/>
<path d="M443.4 373.9 L446.45 379.6 L440.35 379.6 Z" fill="#0A91FF"/>
<path d="M464.8 375.9 L467.85 381.6 L461.75 381.6 Z" fill="#0A91FF"/>
<path d="M351 324.2 L357.8 332.5 L379.2 357 L400.6 370 L422 376.5 L443.4 379 L464.8 380 L485.5 380.5" stroke="#0A91FF" stroke-width="2" stroke-linejoin="round" fill="none"/>
<rect x="354.45" y="329.5" width="6.7" height="6" fill="#0A91FF"/>
<rect x="375.85" y="354" width="6.7" height="6" fill="#0A91FF"/>
<rect x="397.25" y="367" width="6.7" height="6" fill="#0A91FF"/>
<rect x="418.65" y="373.5" width="6.7" height="6" fill="#0A91FF"/>
<rect x="440.05" y="376" width="6.7" height="6" fill="#0A91FF"/>
<rect x="461.45" y="377" width="6.7" height="6" fill="#0A91FF"/>
<rect x="351.2" y="379.3" width="134.3" height="1.9" fill="#d2d2d2"/>
<rect x="351.2" y="381.15" width="134.3" height="1.1" fill="#787878"/>
<rect x="354.55" y="377.4" width="6.5" height="5.8" fill="#8e8e8e"/>
<rect x="375.95" y="377.4" width="6.5" height="5.8" fill="#8e8e8e"/>
<rect x="397.35" y="377.4" width="6.5" height="5.8" fill="#8e8e8e"/>
<rect x="418.75" y="377.4" width="6.5" height="5.8" fill="#8e8e8e"/>
<rect x="440.15" y="377.4" width="6.5" height="5.8" fill="#8e8e8e"/>
<rect x="461.55" y="377.4" width="6.5" height="5.8" fill="#8e8e8e"/>
<path d="M350.2 247.2 V384.5" stroke="#000" stroke-width="2.1" fill="none"/>
<path d="M346.8 247.9 H350.2 M346.8 314.55 H350.2 M346.8 381.2 H350.2 M395.8 381.4 V384.5 M440.6 381.4 V384.5 M485.5 381.4 V384.5" stroke="#000" stroke-width="1.5" fill="none"/>
<text transform="translate(344.5 253.2) scale(0.92 1)" text-anchor="end" font-size="13.7">4</text>
<text transform="translate(344.5 318.3) scale(0.92 1)" text-anchor="end" font-size="13.7">2</text>
<text transform="translate(344.5 385.4) scale(0.92 1)" text-anchor="end" font-size="13.7">0</text>
<text transform="translate(355.65 400.9) scale(0.92 1)" text-anchor="middle" font-size="13.7">10<tspan font-size="9.5" dy="-4.4">3</tspan></text>
<path d="M346.4 398.9h2.75v2.55h-2.75z M350.88 398.9h2.49v2.55h-2.49z" fill="#fff"/>
<text transform="translate(400.05 400.9) scale(0.92 1)" text-anchor="middle" font-size="13.7">10<tspan font-size="9.5" dy="-4.4">4</tspan></text>
<path d="M390.8 398.9h2.75v2.55h-2.75z M395.28 398.9h2.49v2.55h-2.49z" fill="#fff"/>
<text transform="translate(444.65 400.9) scale(0.92 1)" text-anchor="middle" font-size="13.7">10<tspan font-size="9.5" dy="-4.4">5</tspan></text>
<path d="M435.4 398.9h2.75v2.55h-2.75z M439.88 398.9h2.49v2.55h-2.49z" fill="#fff"/>
<text transform="translate(489.1 400.9) scale(0.92 1)" text-anchor="middle" font-size="13.7">10<tspan font-size="9.5" dy="-4.4">6</tspan></text>
<path d="M479.85 398.9h2.75v2.55h-2.75z M484.33 398.9h2.49v2.55h-2.49z" fill="#fff"/>
</g>
<g>
<path d="M520.5 322.5 V380.7 M517.9 322.5 H523.1 M520.5 346.3 V378.7 M517.9 346.3 H523.1 M517.9 378.7 H523.1 M541.5 345.8 V380.7 M538.9 345.8 H544.1 M541.5 355 V380.7 M538.9 355 H544.1 M562.5 360 V380.7 M559.9 360 H565.1 M562.5 364.2 V380.7 M559.9 364.2 H565.1 M562.5 369.2 V380.7 M559.9 369.2 H565.1 M583.5 368.3 V380.7 M580.9 368.3 H586.1" stroke="#585858" stroke-width="1" fill="none"/>
<path d="M513.6 352 L520.3 358.5 L541.3 370 L562.6 376 L583.6 378.5 L605 379.6 L626 380 L646 380.5" stroke="#000000" stroke-width="2" stroke-linejoin="round" fill="none" stroke-dasharray="1.9 2.2"/>
<path d="M520.3 355.1 L523.35 360.8 L517.25 360.8 Z" fill="#000000"/>
<path d="M541.3 366.6 L544.35 372.3 L538.25 372.3 Z" fill="#000000"/>
<path d="M562.6 372.6 L565.65 378.3 L559.55 378.3 Z" fill="#000000"/>
<path d="M583.6 375.1 L586.65 380.8 L580.55 380.8 Z" fill="#000000"/>
<path d="M605 376.2 L608.05 381.9 L601.95 381.9 Z" fill="#000000"/>
<path d="M626 376.6 L629.05 382.3 L622.95 382.3 Z" fill="#000000"/>
<path d="M513.6 355.8 L520.3 362.5 L541.3 373 L562.6 377 L583.6 379 L605 379.5 L626 379.5 L646 380.3" stroke="#000000" stroke-width="2" stroke-linejoin="round" fill="none" stroke-dasharray="18.71 5 17.58 5 16.38 5 16.25 5 16.2 5 15.51 5 12.51 0.01"/>
<ellipse cx="520.3" cy="362.5" rx="4.15" ry="3.9" fill="#000000"/>
<ellipse cx="541.3" cy="373" rx="4.15" ry="3.9" fill="#000000"/>
<ellipse cx="562.6" cy="377" rx="4.15" ry="3.9" fill="#000000"/>
<ellipse cx="583.6" cy="379" rx="4.15" ry="3.9" fill="#000000"/>
<ellipse cx="605" cy="379.5" rx="4.15" ry="3.9" fill="#000000"/>
<ellipse cx="626" cy="379.5" rx="4.15" ry="3.9" fill="#000000"/>
<path d="M513.6 347.5 L520.3 354.2 L541.3 367 L562.6 374.2 L583.6 377.5 L605 379.3 L626 380 L646 380.5" stroke="#000000" stroke-width="2" stroke-linejoin="round" fill="none"/>
<rect x="516.95" y="351.2" width="6.7" height="6" fill="#000000"/>
<rect x="537.95" y="364" width="6.7" height="6" fill="#000000"/>
<rect x="559.25" y="371.2" width="6.7" height="6" fill="#000000"/>
<rect x="580.25" y="374.5" width="6.7" height="6" fill="#000000"/>
<rect x="601.65" y="376.3" width="6.7" height="6" fill="#000000"/>
<rect x="622.65" y="377" width="6.7" height="6" fill="#000000"/>
<rect x="513.8" y="378.8" width="132.2" height="1.9" fill="#d2d2d2"/>
<rect x="513.8" y="380.65" width="132.2" height="1.1" fill="#787878"/>
<rect x="517.05" y="376.9" width="6.5" height="5.8" fill="#8e8e8e"/>
<rect x="538.05" y="376.9" width="6.5" height="5.8" fill="#8e8e8e"/>
<rect x="559.35" y="376.9" width="6.5" height="5.8" fill="#8e8e8e"/>
<rect x="580.35" y="376.9" width="6.5" height="5.8" fill="#8e8e8e"/>
<circle cx="605" cy="379.5" r="3.6" fill="#7d7d7d"/>
<circle cx="626" cy="379.5" r="3.6" fill="#7d7d7d"/>
<path d="M512.8 247.6 V384" stroke="#000" stroke-width="2.1" fill="none"/>
<path d="M509.4 248.3 H512.8 M509.4 314.5 H512.8 M509.4 380.7 H512.8 M558 380.9 V384 M602.2 380.9 V384 M646.5 380.9 V384" stroke="#000" stroke-width="1.5" fill="none"/>
<text transform="translate(506.5 253.2) scale(0.92 1)" text-anchor="end" font-size="13.7">4</text>
<text transform="translate(506.5 318.3) scale(0.92 1)" text-anchor="end" font-size="13.7">2</text>
<text transform="translate(506.5 385.4) scale(0.92 1)" text-anchor="end" font-size="13.7">0</text>
<text transform="translate(515.65 400.9) scale(0.92 1)" text-anchor="middle" font-size="13.7">10<tspan font-size="9.5" dy="-4.4">3</tspan></text>
<path d="M506.4 398.9h2.75v2.55h-2.75z M510.88 398.9h2.49v2.55h-2.49z" fill="#fff"/>
<text transform="translate(560.05 400.9) scale(0.92 1)" text-anchor="middle" font-size="13.7">10<tspan font-size="9.5" dy="-4.4">4</tspan></text>
<path d="M550.8 398.9h2.75v2.55h-2.75z M555.28 398.9h2.49v2.55h-2.49z" fill="#fff"/>
<text transform="translate(604.65 400.9) scale(0.92 1)" text-anchor="middle" font-size="13.7">10<tspan font-size="9.5" dy="-4.4">5</tspan></text>
<path d="M595.4 398.9h2.75v2.55h-2.75z M599.88 398.9h2.49v2.55h-2.49z" fill="#fff"/>
<text transform="translate(649.1 400.9) scale(0.92 1)" text-anchor="middle" font-size="13.7">10<tspan font-size="9.5" dy="-4.4">6</tspan></text>
<path d="M639.85 398.9h2.75v2.55h-2.75z M644.33 398.9h2.49v2.55h-2.49z" fill="#fff"/>
</g>
</svg>
</body>
</html>
